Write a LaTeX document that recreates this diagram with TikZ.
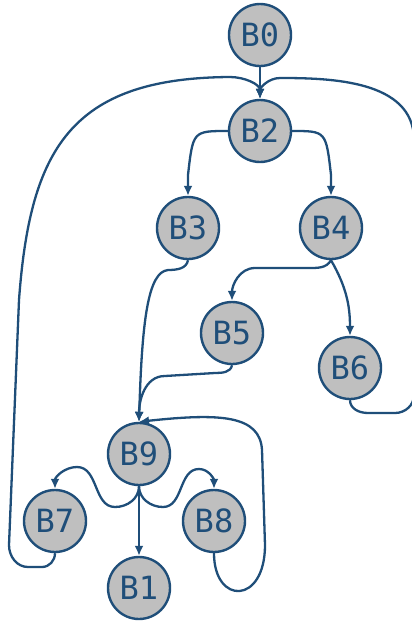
\documentclass[tikz,border=0pt]{standalone}
\usepackage{fontspec}
\setmonofont{DejaVu Sans Mono}
\usetikzlibrary{arrows.meta}
\definecolor{edgeblue}{HTML}{1F4E79}
\definecolor{blkgray}{HTML}{BFBFBF}

\begin{document}
\begin{tikzpicture}[x=0.5pt,y=-0.5pt,
    blk/.style={circle,draw=edgeblue,fill=blkgray,line width=1.2pt,
      minimum size=31pt,inner sep=0pt,text=edgeblue,
      font=\fontsize{16pt}{16pt}\ttfamily},
    flow/.style={draw=edgeblue,line width=1.15pt,-{Latex[length=5pt,width=4.5pt]}}]
     \useasboundingbox (0,0) rectangle (412,622);
     \foreach \n/\x/\y in {B0/260/35,B2/260/131,B3/188/228,B4/331/228,
                           B5/232/333,B6/350/368,B9/139/454,B7/55/521,
                           B8/214/521,B1/139/588} {
      \node[blk] (\n) at (\x,\y) {\n};
     }
     \draw[flow] (B0) -- (B2);
     \draw[flow] (B2.west) .. controls (193,131) .. (188,175) -- (B3.north);
     \draw[flow] (B2.east) .. controls (326,131) .. (331,175) -- (B4.north);
     \draw[flow] (B4.south) to[out=-120,in=0] (308,268) -- (255,268)
        to[out=180,in=90] (B5.north);
     \draw[flow] (B4.south) to[out=-60,in=90] (B6.north);
     \draw[flow] (B3.south) to[out=-100,in=0] (168,270)
        .. controls (148,272) and (142,320) .. (B9.north);
     \draw[flow] (B5.south) to[out=-100,in=0] (215,373) -- (165,376)
        to[out=180,in=90] (B9.north);
     \draw[flow] (B8.south) .. controls (214,605) and (265,605) .. (265,545)
        -- (262,450) .. controls (260,415) and (220,413) .. (B9.north);
     \draw[flow] (B6.south) to[out=-90,in=180] (368,413) -- (395,413)
        to[out=0,in=-90] (414,395) -- (414,140)
        .. controls (414,80) and (330,78) .. (280,78) to[out=180,in=90] (B2.north);
     \draw[flow] (B7.south) to[out=-90,in=0] (42,567) -- (28,567)
        to[out=180,in=-90] (9,545) -- (19,300)
        .. controls (30,150) and (70,78) .. (230,77) to[out=0,in=90] (B2.north);
     \draw[flow] (B9.south) to[out=-90,in=0] (115,507)
        to[out=180,in=0] (77,467) to[out=180,in=90] (B7.north);
     \draw[flow] (B9.south) to[out=-90,in=180] (163,507)
        to[out=0,in=180] (199,469) to[out=0,in=90] (B8.north);
     \draw[flow] (B9) -- (B1);
    \end{tikzpicture}
\end{document}
